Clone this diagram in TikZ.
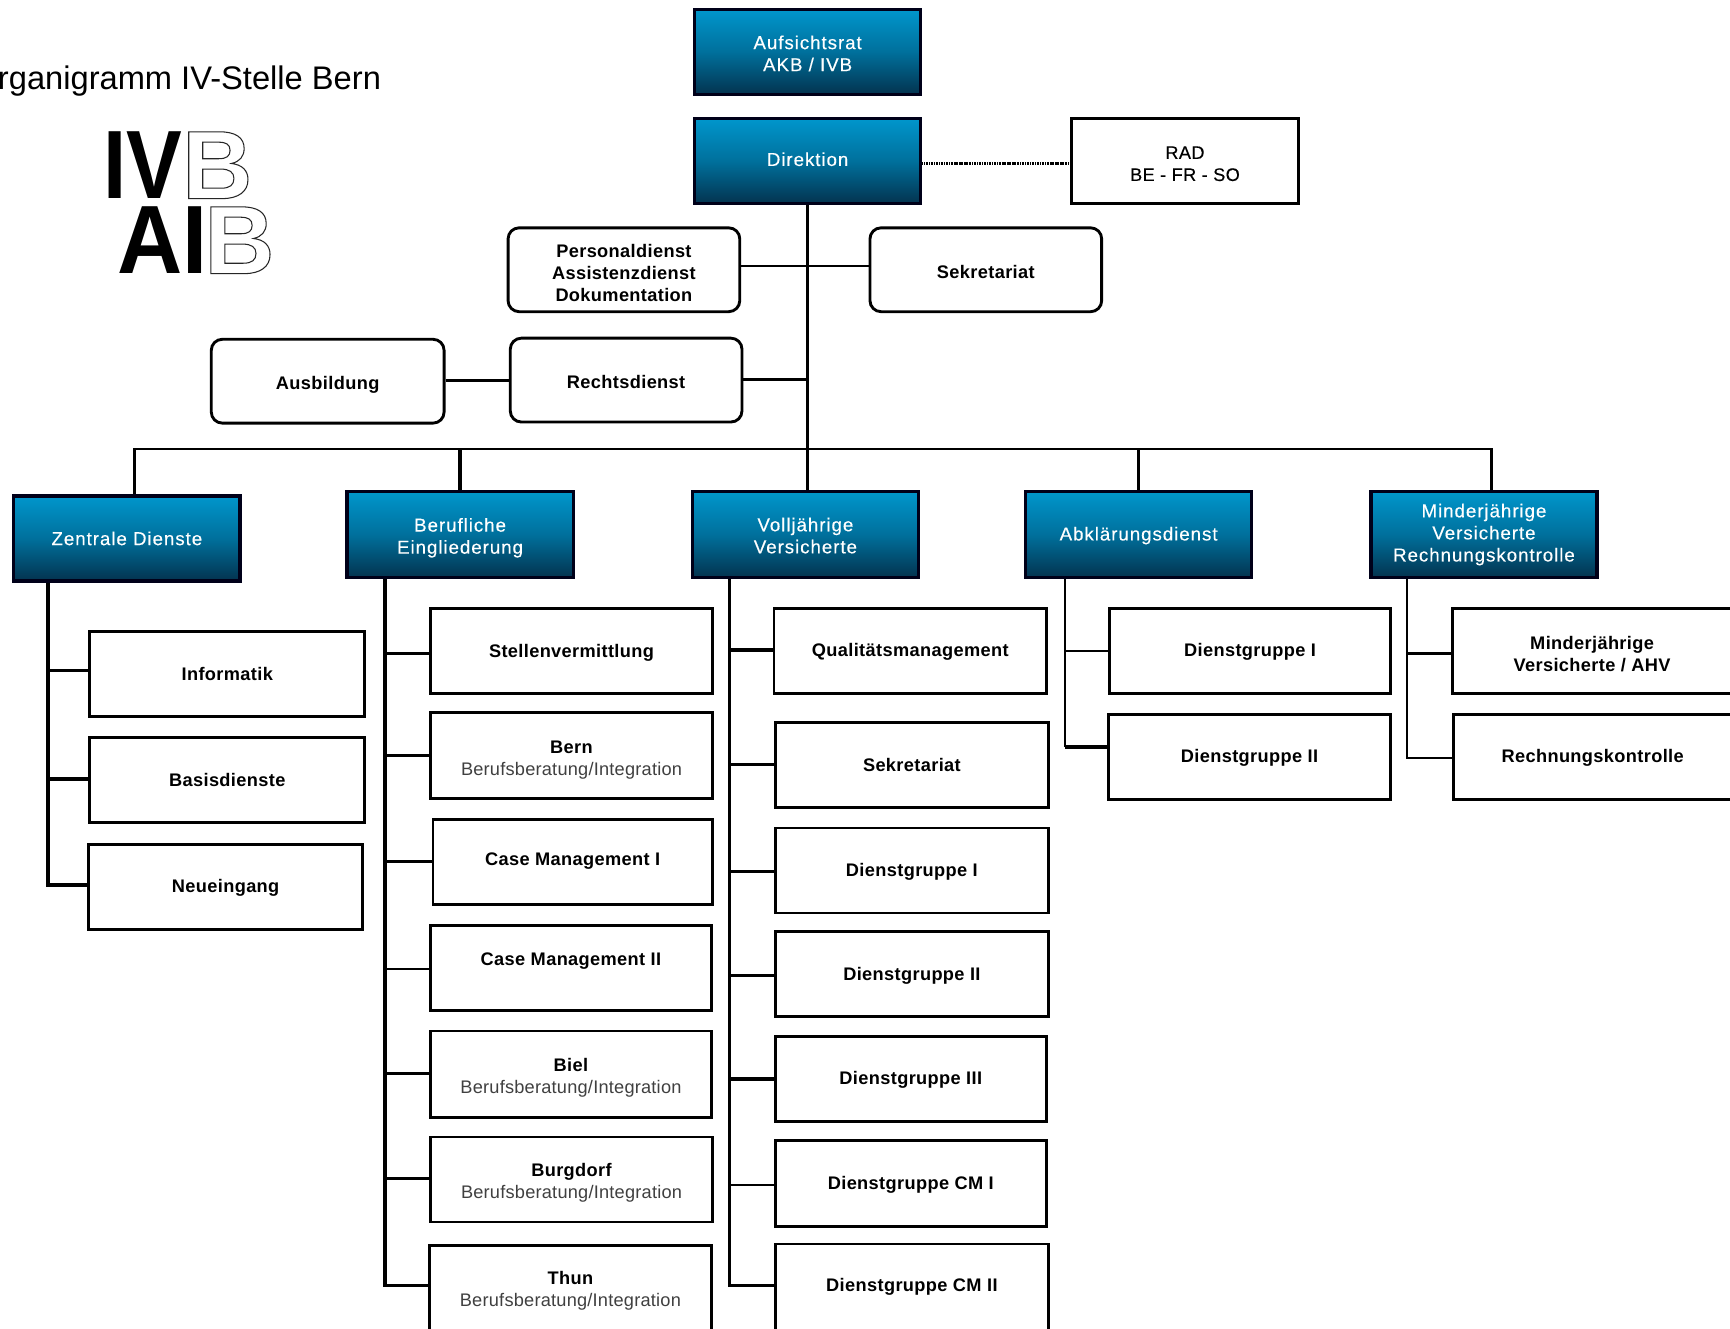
\documentclass[tikz,border=0pt]{standalone}
\usepackage{fontspec}
\setmainfont{Liberation Sans}
\newfontfamily\labelfont[LetterSpace=2]{Liberation Sans}
\newfontfamily\radfont[LetterSpace=2,FakeBold=0.25]{Liberation Sans}
\newfontfamily\headfont[LetterSpace=5,FakeBold=0.25]{Liberation Sans}
\newfontfamily\subfont[LetterSpace=1.2]{Liberation Sans}
\newcommand{\subl}[1]{{\normalfont\subfont\color{black!75}#1}}
\newcommand{\outl}[1]{\special{pdf:code 1 Tr 0.95 w 0.15 G}#1\special{pdf:code 0 Tr 0 G}}
\newcommand{\dn}[1]{\rule{0pt}{\dimexpr 12.2pt+2\dimexpr #1pt\relax\relax}}
\newcommand{\up}[1]{\rule[-\dimexpr 3.5pt+2\dimexpr #1pt\relax\relax]{0pt}{0pt}}
\tikzset{
  basebox/.style={inner sep=0pt,align=center,font=\fontsize{16.5}{20}\selectfont\labelfont\bfseries},
  headbox/.style={basebox,draw=black!90!blue,line width=3pt,top color=cTop,bottom color=cBot,middle color=cMid,text=white,font=\fontsize{17}{20}\selectfont\headfont},
  plainbox/.style={basebox,draw=black,line width=2.6pt,fill=white},
  regbox/.style={plainbox,font=\fontsize{16.5}{20}\selectfont\radfont},
  softbox/.style={plainbox,rounded corners=10pt},
  conn/.style={draw=black,line width=2.2pt},
  heavy/.style={draw=black,line width=3pt},
  dotconn/.style={draw=black,line width=3pt,dash pattern=on 1pt off 0.5pt},
  titletext/.style={inner sep=0pt,anchor=base east,font=\fontsize{29.6}{34}\selectfont},
  logotext/.style={inner sep=0pt,anchor=base west,transform shape,font=\fontsize{88}{88}\selectfont\bfseries}
}
\definecolor{cTop}{HTML}{0096CC}
\definecolor{cMid}{HTML}{00709C}
\definecolor{cBot}{HTML}{03334F}
\newcommand{\bx}[7]{%
  \pgfmathsetmacro{\cxv}{(#4+#6)/2}%
  \pgfmathsetmacro{\cyv}{(#5+#7)/2}%
  \pgfmathsetmacro{\wv}{#6-#4-1}%
  \pgfmathsetmacro{\hv}{#7-#5-1}%
  \node[#2,minimum width=\wv pt,minimum height=\hv pt] (#1) at (\cxv,\cyv) {#3};%
}
\newcommand{\branch}[4][conn]{\draw[#1] (#2 |- 0,#3) -- (#4.west |- 0,#3);}
\begin{document}
\begin{tikzpicture}[x=1pt,y=-1pt]
\useasboundingbox (0,0) rectangle (1568,1204);
\clip (0,0) rectangle (1568,1204);
\fill[white] (0,0) rectangle (1568,1204);

% title and logo
\node[titletext] (title) at (345.5,81.5) {Organigramm IV-Stelle Bern};
\begin{scope}[xscale=0.86]
\node[logotext] (logoa) at (109,180) {IV};
\end{scope}
\node[logotext] (logob) at (165,180) {\outl{B}};
\begin{scope}[xscale=0.93]
\node[logotext] (logoc) at (114,248) {AI};
\end{scope}
\node[logotext] (logod) at (185,248) {\outl{B}};

% top
\bx{auf}{headbox}{\dn{1.5}Aufsichtsrat\\AKB / IVB}{629}{8}{835}{86}
\bx{dir}{headbox}{Direktion\up{0}}{629}{107}{835}{185}
\bx{rad}{regbox}{\dn{2}RAD\\BE - FR - SO}{971}{107}{1177}{185}
\bx{per}{softbox}{\dn{3}Personaldienst\\Assistenzdienst\\Dokumentation}{460}{206}{671}{283}
\bx{sek}{softbox}{\dn{2}Sekretariat}{788}{206}{999}{283}
\bx{aus}{softbox}{\dn{3}Ausbildung}{191}{307}{403}{384}
\bx{rec}{softbox}{\dn{2}Rechtsdienst}{462}{306}{673}{383}

% heads
\bx{zd}{headbox}{Zentrale Dienste}{12}{449}{218}{527}
\bx{be}{headbox}{\dn{3}Berufliche\\Eingliederung}{314}{445}{520}{524}
\bx{vo}{headbox}{\dn{1}Volljährige\\Versicherte}{627}{445}{833}{524}
\bx{ab}{headbox}{\dn{1}Abklärungsdienst}{929}{445}{1135}{524}
\bx{mi}{headbox}{Minderjährige\\Versicherte\\Rechnungskontrolle}{1242}{445}{1448}{524}

% Zentrale Dienste
\bx{inf}{plainbox}{Informatik}{81}{572}{331}{650}
\bx{bas}{plainbox}{Basisdienste}{81}{668}{331}{746}
\bx{neu}{plainbox}{\dn{1}Neueingang}{80}{765}{329}{843}

% Berufliche Eingliederung
\bx{ste}{plainbox}{\dn{2}Stellenvermittlung}{390}{551}{646}{629}
\bx{brn}{plainbox}{\dn{4}Bern\\\subl{Berufsberatung/Integration}}{390}{645}{646}{724}
\bx{cmi}{plainbox}{Case Management I\up{1}}{392}{742}{646}{820}
\bx{cmii}{plainbox}{Case Management II\up{6}}{390}{838}{645}{916}
\bx{bie}{plainbox}{\dn{3}Biel\\\subl{Berufsberatung/Integration}}{390}{934}{645}{1013}
\bx{bur}{plainbox}{\dn{3}Burgdorf\\\subl{Berufsberatung/Integration}}{390}{1030}{646}{1108}
\bx{thu}{plainbox}{\dn{3}Thun\\\subl{Berufsberatung/Integration}}{389}{1128}{645}{1206}

% Volljaehrige Versicherte
\bx{qua}{plainbox}{\dn{1}Qualitätsmanagement}{701}{551}{949}{629}
\bx{sks}{plainbox}{Sekretariat}{702}{654}{951}{732}
\bx{dga}{plainbox}{\dn{1}Dienstgruppe I}{702}{750}{951}{828}
\bx{dgb}{plainbox}{\dn{1}Dienstgruppe II}{702}{844}{951}{922}
\bx{dgc}{plainbox}{\dn{1}Dienstgruppe III}{702}{939}{949}{1017}
\bx{dgd}{plainbox}{\dn{1}Dienstgruppe CM I}{702}{1033}{949}{1112}
\bx{dge}{plainbox}{Dienstgruppe CM II}{702}{1127}{951}{1206}

% Abklaerungsdienst
\bx{aba}{plainbox}{\dn{1}Dienstgruppe I}{1005}{551}{1261}{629}
\bx{abb}{plainbox}{\dn{1}Dienstgruppe II}{1004}{647}{1261}{725}

% Minderjaehrige
\bx{mia}{plainbox}{\dn{3}Minderjährige\\Versicherte / AHV}{1316}{551}{1570}{629}
\bx{mib}{plainbox}{\dn{1}Rechnungskontrolle}{1317}{647}{1570}{725}

% top connectors
\draw[dotconn] (dir.east |- 0,148) -- (rad.west |- 0,148);
\draw[conn] (dir.south) -- (dir.south |- vo.north);
\draw[conn] (per.east |- 0,241) -- (sek.west |- 0,241);
\draw[conn] (rec.east |- 0,344) -- (dir.south |- 0,344);
\draw[heavy] (aus.east |- 0,345) -- (rec.west |- 0,345);

% bus
\coordinate (busl) at (122,407);
\coordinate (busr) at (1352,407);
\draw[conn] (zd.north -| busl) -- (busl) -- (busr) -- (busr |- mi.north);
\draw[heavy] (be.north |- busl) -- (be.north);
\draw[conn] (ab.north |- busl) -- (ab.north);

% trunks
\coordinate (tz) at (43.5,0);
\coordinate (tb) at (349,0);
\coordinate (tv) at (661,0);
\coordinate (ta) at (965,0);
\coordinate (tm) at (1275,0);
\draw[heavy] (zd.south -| tz) -- (tz |- 0,802) -- (neu.west |- 0,802);
\draw[heavy] (be.south -| tb) -- (tb |- 0,1165) -- (thu.west |- 0,1165);
\draw[heavy] (vo.south -| tv) -- (tv |- 0,1165) -- (dge.west |- 0,1165);
\draw[conn] (ab.south -| ta) -- (ta |- 0,677);
\draw[heavy] (ta |- 0,677) -- (abb.west |- 0,677);
\draw[conn] (mi.south -| tm) -- (tm |- 0,687) -- (mib.west |- 0,687);

\branch[heavy]{tz}{608}{inf}
\branch[heavy]{tz}{706}{bas}
\branch[heavy]{tb}{592}{ste}
\branch[heavy]{tb}{685}{brn}
\branch{tb}{781}{cmi}
\branch{tb}{878}{cmii}
\branch[heavy]{tb}{973}{bie}
\branch{tb}{1068}{bur}
\branch[heavy]{tv}{589}{qua}
\branch[heavy]{tv}{693}{sks}
\branch{tv}{790}{dga}
\branch{tv}{884}{dgb}
\branch[heavy]{tv}{978}{dgc}
\branch{tv}{1074}{dgd}
\branch{ta}{590}{aba}
\branch[heavy]{tm}{592}{mia}
\end{tikzpicture}
\end{document}
